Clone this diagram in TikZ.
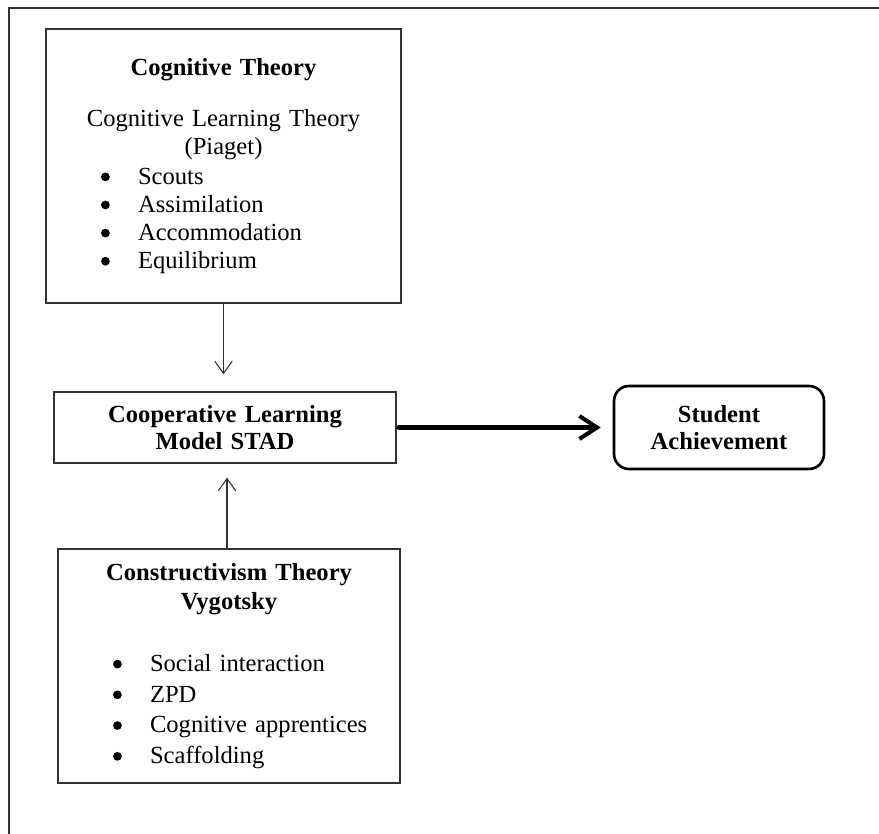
\documentclass[tikz,border=0pt]{standalone}
\usepackage{fontspec}
\setmainfont{Liberation Serif}
\usetikzlibrary{arrows.meta}
\definecolor{lineA}{rgb}{0.2,0.2,0.2}
\newcommand{\bigdot}{\tikz[baseline=-0.65ex]\fill (0,0) circle (2.5pt);}
\newcommand{\bitem}[1]{\makebox[\linewidth][l]{\hspace{1.1cm}\makebox[0.74cm][l]{\bigdot}#1}}

\begin{document}
\begin{tikzpicture}[x=0.02cm, y=-0.02cm, line cap=round,
  box/.style={draw=lineA, line width=0.8pt, inner sep=0pt, align=center},
  thinarrow/.style={-{Straight Barb[length=7pt,width=10pt]}, lineA, line width=0.6pt},
  thickarrow/.style={-{Straight Barb[length=10pt,width=13pt]}, black, line width=2.3pt}]
\useasboundingbox (0,0) rectangle (879,834);
% ---------- frame ----------
\draw[lineA, line width=0.9pt] (9,834) -- (9,8) -- (879,8);
% ---------- Cognitive Theory ----------
\node[box, minimum width=7.1cm, minimum height=5.48cm, text width=7.1cm,
  font=\fontsize{14}{16}\selectfont] (cog) at (223.5,166) {%
  \textbf{Cognitive Theory}\\[13pt]
  Cognitive Learning Theory\\
  (Piaget)\\[1pt]
  \bitem{Scouts}\\
  \bitem{Assimilation}\\
  \bitem{Accommodation}\\
  \bitem{Equilibrium}};
% ---------- Cooperative Learning ----------
\node[box, minimum width=6.84cm, minimum height=1.42cm, text width=6.84cm,
  font=\fontsize{14}{15.3}\selectfont\bfseries] (coop) at (225,427.5)
  {Cooperative Learning\\Model STAD};
% ---------- Constructivism Theory ----------
\node[box, minimum width=6.84cm, minimum height=4.68cm, text width=6.84cm,
  font=\fontsize{14}{17.5}\selectfont] (con) at (229,666) {%
  \textbf{Constructivism Theory}\\[-1pt]
  \textbf{Vygotsky}\\[18pt]
  \bitem{Social interaction}\\
  \bitem{ZPD}\\
  \bitem{Cognitive apprentices}\\
  \bitem{Scaffolding}};
% ---------- Student Achievement ----------
\node[box, draw=black, line width=1.5pt, rounded corners=0.3cm,
  minimum width=4.2cm, minimum height=1.66cm,
  font=\fontsize{14}{15.3}\selectfont\bfseries] (stud) at (719,427.5)
  {Student\\Achievement};
% arrows
\draw[thinarrow, shorten >=0.34cm] (cog.south) -- (coop.north -| cog.south);
\draw[thinarrow, shorten >=0.28cm] ([xshift=-0.04cm]con.north) -- ([xshift=-0.04cm]coop.south -| con.north);
\draw[thickarrow, shorten <=0.04cm, shorten >=0.24cm] (coop.east) -- (stud.west);
\end{tikzpicture}
\end{document}
